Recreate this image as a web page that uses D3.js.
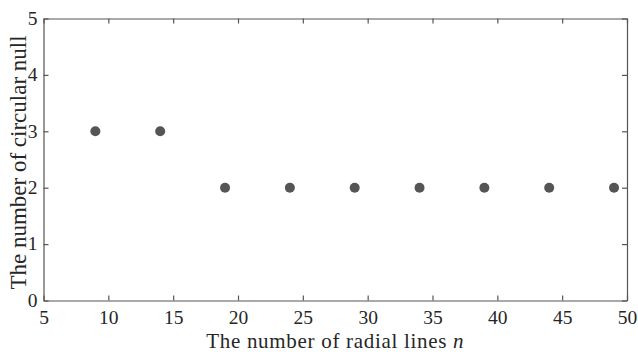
<!DOCTYPE html>
<html>
<head>
<meta charset="utf-8">
<script src="https://cdn.jsdelivr.net/npm/d3@7"></script>
<style>
  body { margin: 0; background: #fff; }
  text { font-family: "Liberation Serif", "Times New Roman", serif; fill: #262626; }
</style>
</head>
<body>
<div id="vis"><svg></svg></div>
<script>
// radial lines n vs number of circular nulls
const radialLines = [9, 14, 19, 24, 29, 34, 39, 44, 49];
const circularNulls = [3, 3, 2, 2, 2, 2, 2, 2, 2];
const xTicks = [5, 10, 15, 20, 25, 30, 35, 40, 45, 50];
const yTicks = [0, 1, 2, 3, 4, 5];

const w = 638, h = 352;
const margin = {top: 18.5, right: 11, bottom: 51.5, left: 43.5};
const width = w - margin.left - margin.right;
const height = h - margin.top - margin.bottom;

const svg = d3.select("#vis").select("svg")
  .attr("width", w)
  .attr("height", h);

const x = d3.scaleLinear().domain([5, 50]).range([0, width]);
const y = d3.scaleLinear().domain([0, 5]).range([height, 0]);

const g = svg.append("g")
  .attr("transform", `translate(${margin.left}, ${margin.top})`);

const axisColor = "#555";
const fmt = d3.format("d");

// bottom axis (ticks point inward)
const xAxis = g.append("g")
  .attr("transform", `translate(0, ${height})`)
  .call(d3.axisBottom(x).tickValues(xTicks).tickFormat(fmt).tickSizeInner(-5).tickSizeOuter(0).tickPadding(10));
// top mirror ticks
const xTop = g.append("g")
  .call(d3.axisTop(x).tickValues(xTicks).tickSizeInner(-5).tickSizeOuter(0).tickFormat(""));
// left axis
const yAxis = g.append("g")
  .call(d3.axisLeft(y).tickValues(yTicks).tickFormat(fmt).tickSizeInner(-5).tickSizeOuter(0).tickPadding(6));
// right mirror ticks
const yRight = g.append("g")
  .attr("transform", `translate(${width}, 0)`)
  .call(d3.axisRight(y).tickValues(yTicks).tickSizeInner(-5).tickSizeOuter(0).tickFormat(""));

[xAxis, xTop, yAxis, yRight].forEach(a => {
  a.attr("font-family", null);
  a.selectAll("path").attr("stroke", axisColor).attr("stroke-width", 1.2);
  a.selectAll("line").attr("stroke", axisColor).attr("stroke-width", 1.2);
  a.selectAll("text").attr("font-size", 19.5).attr("fill", "#262626");
});
yAxis.selectAll("text").attr("dy", "0.3em");

// points
g.selectAll(".dot")
  .data(radialLines.map((d, i) => ({n: d, v: circularNulls[i]})))
  .enter().append("circle")
    .attr("class", "dot")
    .attr("cx", d => x(d.n))
    .attr("cy", d => y(d.v))
    .attr("r", 5)
    .attr("fill", "#555");

// axis labels
const xLabel = svg.append("text")
  .attr("x", margin.left + width / 2)
  .attr("y", 347.5)
  .attr("text-anchor", "middle")
  .attr("font-size", 21)
  .attr("letter-spacing", 0.7);
xLabel.append("tspan").text("The number of radial lines ");
xLabel.append("tspan").attr("font-style", "italic").text("n");

svg.append("text")
  .attr("transform", `translate(26, ${margin.top + height / 2 + 3}) rotate(-90)`)
  .attr("text-anchor", "middle")
  .attr("font-size", 23)
  .text("The number of circular null");
</script>
</body>
</html>
